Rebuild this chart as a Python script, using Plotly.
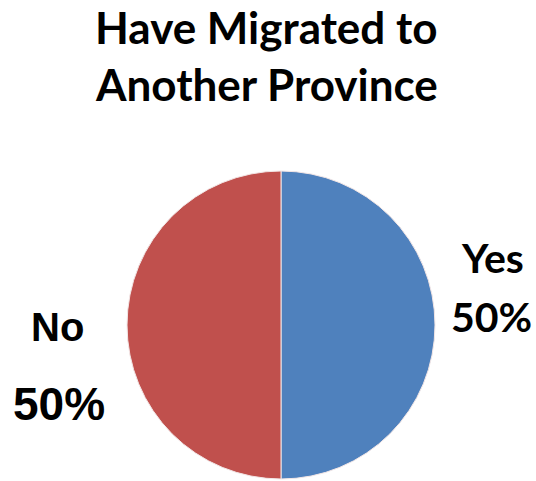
import plotly.graph_objects as go

# Share of respondents who have migrated to another province
categories = ["Yes", "No"]
shares = [50, 50]
colors = ["#4F81BD", "#C0504D"]

W, H = 536, 481
FONT = "Lato, 'Open Sans', sans-serif"
ARIAL = "'Liberation Sans', Arial, sans-serif"

fig = go.Figure(
    go.Pie(
        labels=categories,
        values=shares,
        sort=False,
        direction="clockwise",
        rotation=0,
        textinfo="none",
        hoverinfo="label+percent",
        marker=dict(colors=colors, line=dict(color="#F2E6E6", width=1)),
        domain=dict(x=[127 / W, 435 / W], y=[2 / H, 310 / H]),
        showlegend=False,
    )
)

total = sum(shares)
pct = {c: f"{round(v / total * 100)}%" for c, v in zip(categories, shares)}


def label(text, x, y, family, size):
    return dict(text=f"<b>{text}</b>", x=x / W, y=1 - y / H,
                xref="paper", yref="paper", xanchor="center", yanchor="middle",
                showarrow=False, font=dict(family=family, size=size, color="#000000"))


annotations = [
    # title (two lines)
    label("Have Migrated to", 266, 27, FONT, 44),
    label("Another Province", 266, 84, FONT, 44),
    # slice labels
    label("Yes", 492, 257, FONT, 41),
    label(pct["Yes"], 491, 316, FONT, 41),
    label("No", 58, 327, ARIAL, 40),
    label(pct["No"], 59, 404, ARIAL, 46),
]

fig.update_layout(
    width=W,
    height=H,
    margin=dict(l=0, r=0, t=0, b=0),
    paper_bgcolor="white",
    plot_bgcolor="white",
    annotations=annotations,
)

fig.write_html("out.html")
